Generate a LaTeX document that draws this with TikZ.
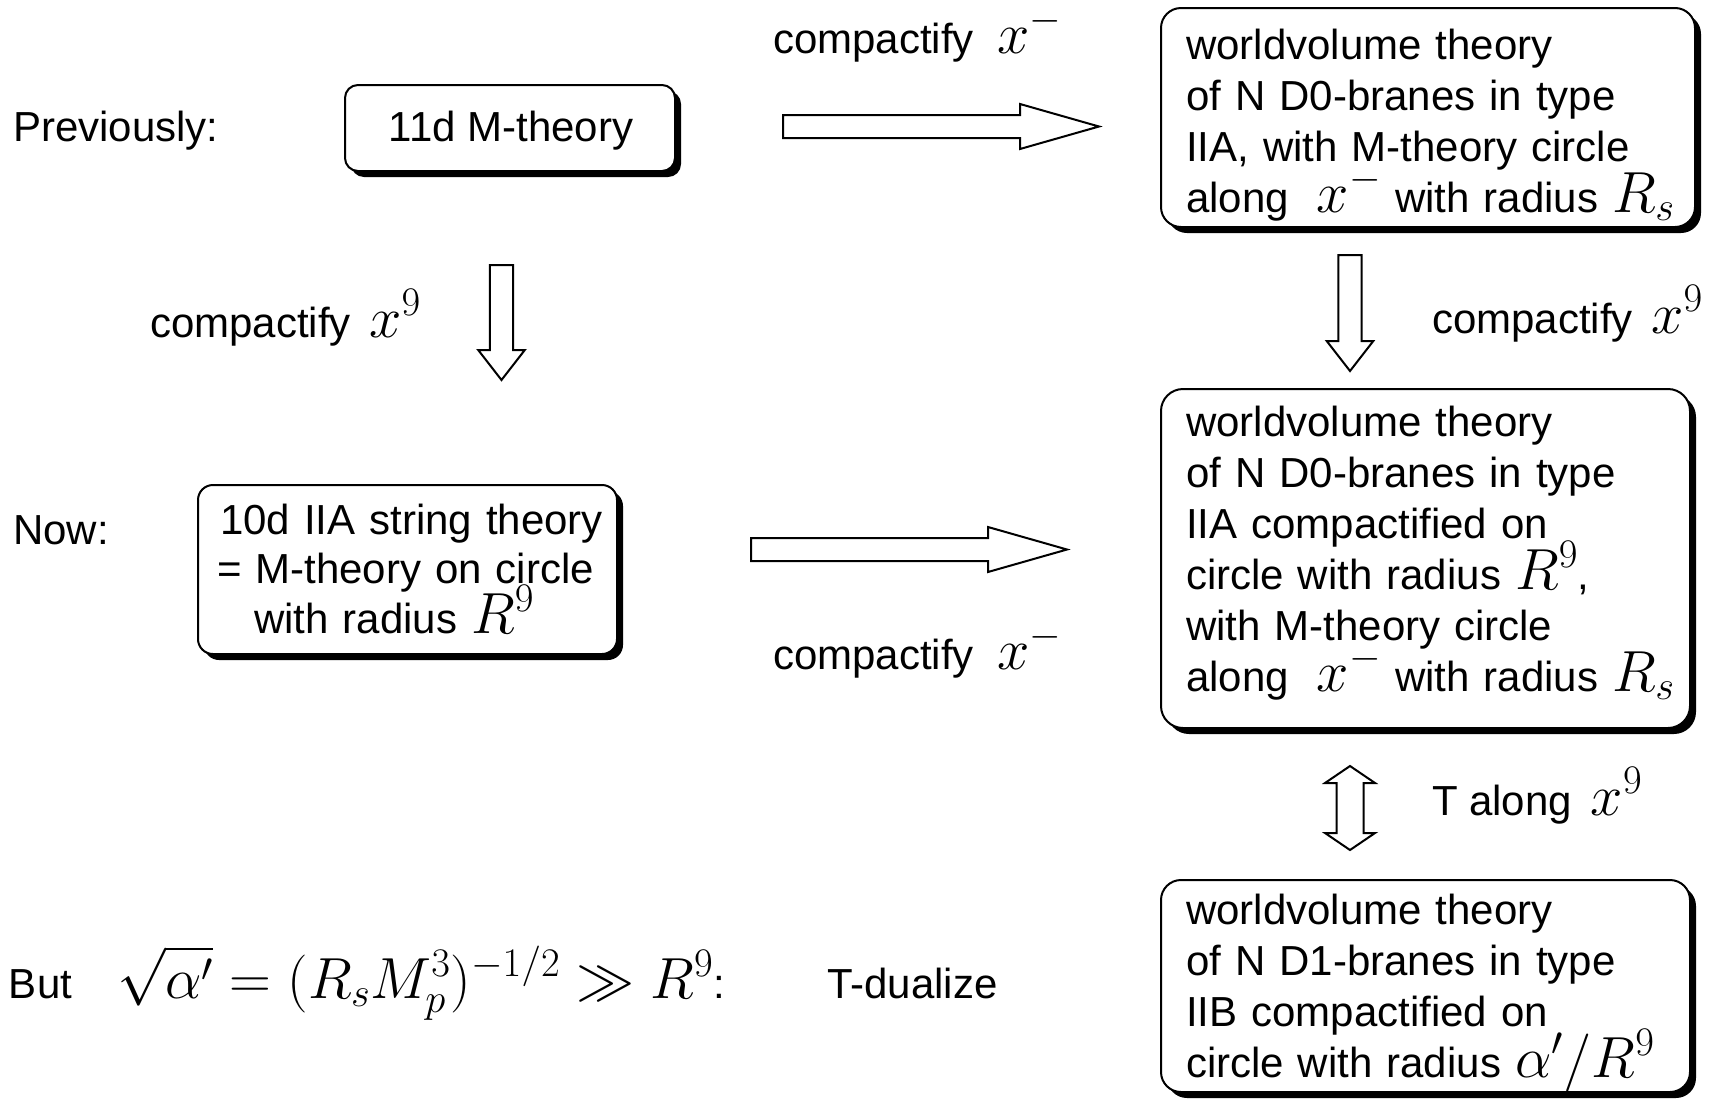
\RequirePackage{fix-cm}
\documentclass[tikz,border=0pt]{standalone}
\usepackage[no-math]{fontspec}
\setmainfont{Liberation Sans}
\usetikzlibrary{calc,shadows}
\lineskiplimit=-100pt
\normallineskiplimit=-100pt
\newcommand\mth[1]{{\fontsize{58}{58}\selectfont$#1$}}
\newcommand\rblk[2]{\draw[blk] ($(#1)+(0,-11.5)$) -- ($(#2)+(-79,-11.5)$) -- ($(#2)+(-79,-22.5)$) -- (#2) -- ($(#2)+(-79,22.5)$) -- ($(#2)+(-79,11.5)$) -- ($(#1)+(0,11.5)$) -- cycle;}
\newcommand\dblk[2]{\draw[blk] ($(#1)+(-11.7,0)$) -- ($(#2)+(-11.7,-30)$) -- ($(#2)+(-23.3,-30)$) -- (#2) -- ($(#2)+(23.3,-30)$) -- ($(#2)+(11.7,-30)$) -- ($(#1)+(11.7,0)$) -- cycle;}
\newcommand\udblk[2]{\draw[blk] (#1) -- ($(#1)+(25,17)$) -- ($(#1)+(13.5,17)$) -- ($(#2)+(13.5,-17)$) -- ($(#2)+(25,-17)$) -- (#2) -- ($(#2)+(-25,-17)$) -- ($(#2)+(-13.5,-17)$) -- ($(#1)+(-13.5,17)$) -- ($(#1)+(-25,17)$) -- cycle;}
\newcommand\noLineskip{\lineskiplimit=-100pt\relax}
\tikzset{
  tbox/.style={draw, line width=2pt, fill=white, rounded corners=#1, inner sep=0pt, outer sep=0pt,
    anchor=north west, drop shadow={shadow xshift=6pt, shadow yshift=-6pt, fill=black, opacity=1}},
  blk/.style={draw, line width=2pt, fill=white, line join=miter},
  txt/.style={inner sep=0pt, outer sep=0pt, anchor=base west},
  ml/.style={txt, text width=600pt, align=left, execute at begin node=\noLineskip},
  bigfont/.style={font=\fontsize{42}{51}\selectfont},
}
\begin{document}
\begin{tikzpicture}[x=1pt,y=-1pt,bigfont]
\useasboundingbox[fill=white] (0,0) rectangle (1713,1098);
% boxes
\node[tbox=13pt, minimum width=330pt, minimum height=86pt] (mth) at (345,85) {};
\node[tbox=20pt, minimum width=534pt, minimum height=219pt] (wv1) at (1161,8) {};
\node[tbox=15pt, minimum width=419pt, minimum height=169pt] (iia) at (198,485) {};
\node[tbox=22pt, minimum width=529pt, minimum height=339pt] (wv2) at (1161,389) {};
\node[tbox=20pt, minimum width=529pt, minimum height=212pt] (wv3) at (1161,880) {};
% arrows
\coordinate (a1s) at (783,126.5); \coordinate (a1e) at (1099,126.5);
\coordinate (a2s) at (751,549.5); \coordinate (a2e) at (1067,549.5);
\coordinate (d1s) at (501.5,265); \coordinate (d1e) at (501.5,380);
\coordinate (d2s) at (1350,255); \coordinate (d2e) at (1350,371);
\coordinate (t1) at (1350,766); \coordinate (t2) at (1350,850);
\rblk{a1s}{a1e}
\rblk{a2s}{a2e}
\dblk{d1s}{d1e}
\dblk{d2s}{d2e}
\udblk{t1}{t2}
% texts
\node[txt] (prev) at (13,141) {Previously:};
\node[txt, anchor=base] (mtxt) at (511,141) {11d M-theory};
\node[txt] (c1) at (773,53) {compactify\ \ \mth{x^-}};
\node[ml] (wv1t) at (1186,59) {worldvolume theory\\of N D0-branes in type\\IIA, with M-theory circle\\along\ \ \mth{x^-} with radius \mth{R_s}};
\node[txt] (c2) at (150,337) {compactify \,\mth{x^9}};
\node[txt] (c3) at (1432,333) {compactify \,\mth{x^9}};
\node[txt] (now) at (13,544) {Now:};
\node[ml, font=\fontsize{42}{49.5}\selectfont] (iiat) at (217,534) {\hspace*{3pt}10d IIA string theory\\= M-theory on circle\\\hspace*{37pt}with radius \mth{R^9}};
\node[txt] (c4) at (773,669) {compactify\ \ \mth{x^-}};
\node[ml] (wv2t) at (1186,436) {worldvolume theory\\of N D0-branes in type\\IIA compactified on\\circle with radius \mth{R^9},\\with M-theory circle\\along\ \ \mth{x^-} with radius \mth{R_s}};
\node[txt] (tal) at (1432,815) {T along\ \,\mth{x^9}};
\node[ml] (wv3t) at (1186,924) {worldvolume theory\\of N D1-branes in type\\IIB compactified on\\circle with radius \mth{\alpha'/R^9}};
\node[txt] (but) at (9,998) {But};
\node[txt] (frm) at (117,998) {\mth{\sqrt{\alpha'} = (R_sM_p^3)^{-1/2} \gg R^9}:};
\node[txt] (tdu) at (827,998) {T-dualize};
\end{tikzpicture}
\end{document}
